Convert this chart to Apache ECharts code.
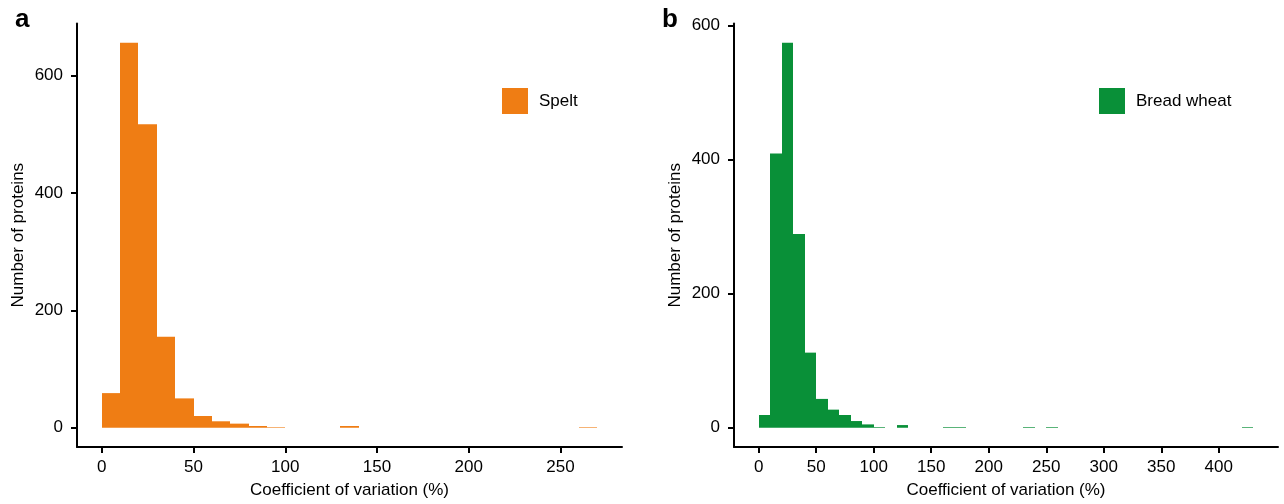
<!DOCTYPE html>
<html>
<head>
<meta charset="utf-8">
<title>Coefficient of variation histograms</title>
<script src="https://cdn.jsdelivr.net/npm/echarts@6/dist/echarts.min.js"></script>
<style>
  html, body { margin: 0; padding: 0; background: #ffffff; }
  #chart { width: 1284px; height: 504px; }
</style>
</head>
<body>
<div id="chart"></div>
<script>
// Histogram bins are 10 % wide; each entry is the left edge of a bin.
const BIN_WIDTH = 10;

const speltBins   = [0, 10, 20, 30, 40, 50, 60, 70, 80, 90, 130, 260];
const speltCounts = [59, 656, 517, 155, 50, 20, 11, 7, 3, 1, 3, 1];

const wheatBins   = [0, 10, 20, 30, 40, 50, 60, 70, 80, 90, 100, 120, 160, 170, 230, 250, 420];
const wheatCounts = [19, 409, 574, 289, 112, 43, 27, 19, 10, 5, 1, 4, 1, 1, 1, 1, 1];

const speltTicks = [0, 50, 100, 150, 200, 250];
const wheatTicks = [0, 50, 100, 150, 200, 250, 300, 350, 400];
const countTicks = [0, 200, 400, 600];

const SPELT_COLOR = '#EF7D14';
const WHEAT_COLOR = '#099038';
const FONT = '"Liberation Sans", Arial, Helvetica, sans-serif';

// ggplot-style 5 % padding around the data range
function padded(lo, hi) {
  const pad = (hi - lo) * 0.05;
  return [lo - pad, hi + pad];
}

function pairs(bins, counts) {
  return bins.map((b, i) => [b, counts[i]]);
}

// One filled rectangle per bin. Bin edges are snapped to whole pixels so
// neighbouring bins share an edge exactly and no seam shows between them.
function renderBin(params, api) {
  const start = api.value(0);
  const count = api.value(1);
  const topLeft = api.coord([start, count]);
  const bottomRight = api.coord([start + BIN_WIDTH, 0]);
  const x0 = Math.round(topLeft[0]);
  const x1 = Math.round(bottomRight[0]);
  return {
    type: 'rect',
    shape: {
      x: x0,
      y: topLeft[1],
      width: x1 - x0,
      height: bottomRight[1] - topLeft[1]
    },
    style: { fill: api.visual('color') }
  };
}

const speltX = padded(0, speltBins[speltBins.length - 1] + BIN_WIDTH);
const speltY = padded(0, Math.max(...speltCounts));
const wheatX = padded(0, wheatBins[wheatBins.length - 1] + BIN_WIDTH);
const wheatY = padded(0, Math.max(...wheatCounts));

const axisLine = { show: true, onZero: false, lineStyle: { color: '#000', width: 2 } };
const tickStyle = { color: '#000', width: 2 };
const labelStyle = { fontFamily: FONT, fontSize: 17, color: '#000' };
const nameStyle = { fontFamily: FONT, fontSize: 17, color: '#000' };

function xAxisFor(gridIndex, range, ticks) {
  return {
    type: 'value',
    gridIndex: gridIndex,
    min: range[0],
    max: range[1],
    name: 'Coefficient of variation (%)',
    nameLocation: 'middle',
    nameGap: 35,
    nameTextStyle: nameStyle,
    axisLine: axisLine,
    axisTick: { show: true, length: 6, lineStyle: tickStyle, customValues: ticks },
    axisLabel: Object.assign({ margin: 12, customValues: ticks }, labelStyle),
    splitLine: { show: false }
  };
}

function yAxisFor(gridIndex, range) {
  return {
    type: 'value',
    gridIndex: gridIndex,
    min: range[0],
    max: range[1],
    name: 'Number of proteins',
    nameLocation: 'middle',
    nameGap: 50,
    nameTextStyle: nameStyle,
    axisLine: axisLine,
    axisTick: { show: true, length: 6, lineStyle: tickStyle, customValues: countTicks },
    axisLabel: Object.assign({ margin: 14, customValues: countTicks }, labelStyle),
    splitLine: { show: false }
  };
}

function legendFor(name, left) {
  return {
    data: [{ name: name, icon: 'rect' }],
    left: left,
    top: 88,
    padding: 0,
    itemWidth: 26,
    itemHeight: 26,
    selectedMode: false,
    textStyle: { fontFamily: FONT, fontSize: 17, color: '#000', padding: [0, 0, 0, 6] }
  };
}

const chart = echarts.init(document.getElementById('chart'), null, { renderer: 'canvas' });

chart.setOption({
  animation: false,
  backgroundColor: '#ffffff',
  grid: [
    { left: 77, top: 23.4, width: 545, height: 427.7 },
    { left: 734, top: 23.5, width: 544, height: 427.5 }
  ],
  xAxis: [
    xAxisFor(0, speltX, speltTicks),
    xAxisFor(1, wheatX, wheatTicks)
  ],
  yAxis: [
    yAxisFor(0, speltY),
    yAxisFor(1, wheatY)
  ],
  legend: [
    legendFor('Spelt', 502),
    legendFor('Bread wheat', 1099)
  ],
  graphic: [
    { type: 'text', left: 15, top: 7, style: { text: 'a', font: 'bold 26px ' + FONT, fill: '#000' } },
    { type: 'text', left: 662, top: 7, style: { text: 'b', font: 'bold 26px ' + FONT, fill: '#000' } }
  ],
  series: [
    {
      name: 'Spelt',
      type: 'custom',
      xAxisIndex: 0,
      yAxisIndex: 0,
      renderItem: renderBin,
      itemStyle: { color: SPELT_COLOR },
      encode: { x: 0, y: 1 },
      data: pairs(speltBins, speltCounts)
    },
    {
      name: 'Bread wheat',
      type: 'custom',
      xAxisIndex: 1,
      yAxisIndex: 1,
      renderItem: renderBin,
      itemStyle: { color: WHEAT_COLOR },
      encode: { x: 0, y: 1 },
      data: pairs(wheatBins, wheatCounts)
    }
  ]
});
</script>
</body>
</html>
